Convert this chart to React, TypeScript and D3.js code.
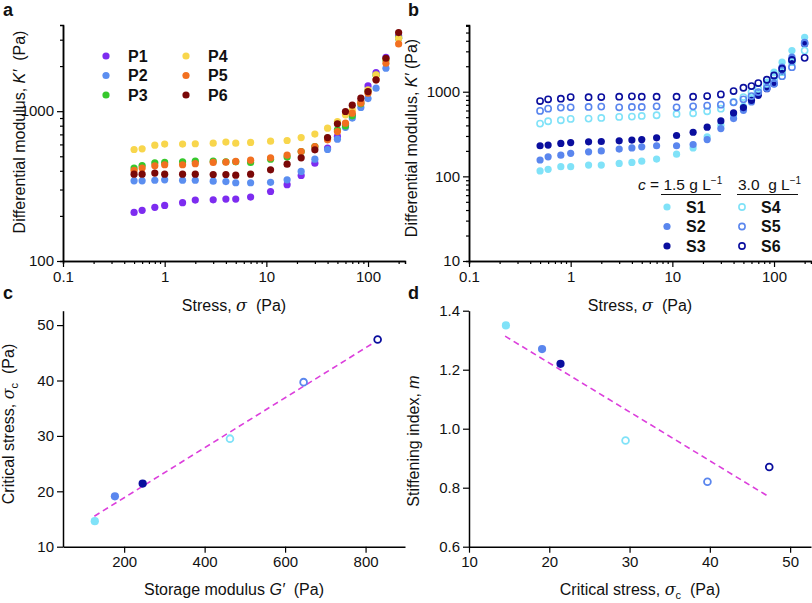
import React, { useEffect, useRef } from "react";
import * as d3 from "d3";

const stress = [0.5, 0.6, 0.8, 1, 1.5, 2, 3, 4, 5, 7, 11, 16, 22, 30, 40, 50, 60, 70, 85, 100, 120, 150, 200];

const P1 = [211, 218, 228, 235, 245, 255, 256, 259, 259, 267, 291, 323, 372, 450, 567, 678, 811, 946, 1160, 1475, 1811, 2291, 3180];
const P2 = [343, 343, 346, 348, 346, 346, 341, 339, 333, 333, 335, 348, 396, 478, 555, 650, 780, 900, 1060, 1214, 1423, 1935, 3068];
const P3 = [417, 434, 452, 455, 459, 464, 464, 459, 459, 455, 478, 494, 538, 581, 661, 751, 798, 931, 1119, 1374, 1738, 2198, 3083];
const P4 = [555, 561, 593, 603, 603, 606, 612, 622, 612, 619, 631, 637, 667, 703, 770, 853, 945, 1020, 1160, 1387, 1746, 2222, 3068];
const P5 = [402, 417, 432, 439, 439, 446, 455, 457, 462, 471, 488, 509, 538, 581, 644, 731, 832, 970, 1130, 1318, 1618, 2089, 2812];
const P6 = [380, 380, 386, 380, 380, 380, 378, 378, 374, 380, 406, 443, 488, 552, 667, 823, 995, 1096, 1222, 1352, 1618, 2255, 3345];

const S1 = [116, 121, 130, 130, 136, 136, 142, 146, 151, 160, 183, 217, 293, 402, 525, 671, 827, 991, 1300, 1703, 2233, 3060, 4395];
const S2 = [156, 170, 178, 187, 195, 200, 210, 217, 223, 230, 230, 238, 272, 367, 481, 603, 756, 947, 1188, 1358, 1950, 2557, 3840];
const S3 = [230, 234, 245, 251, 256, 258, 263, 268, 272, 285, 304, 332, 381, 452, 561, 649, 791, 906, 1084, 1242, 1703, 2338, 3672];
const S4 = [420, 448, 460, 477, 481, 490, 504, 508, 517, 527, 546, 556, 587, 631, 756, 865, 991, 1084, 1242, 1462, 1703, 2233, 3060];
const S5 = [593, 631, 649, 654, 661, 667, 654, 661, 661, 672, 654, 672, 684, 703, 749, 813, 889, 991, 1104, 1242, 1528, 1950, 3740];
const S6 = [776, 813, 827, 865, 861, 865, 873, 881, 873, 873, 873, 873, 889, 930, 1018, 1114, 1166, 1265, 1385, 1556, 1867, 2377, 2512];

const pNames = ["P1", "P2", "P3", "P4", "P5", "P6"];
const pColors = ["#7d2cf0", "#5b8ef0", "#36c82c", "#f8d64c", "#f27020", "#7a0808"];
const sNames = ["S1", "S2", "S3", "S4", "S5", "S6"];
const sColors = ["#80e2f8", "#5a86ee", "#0a0e9e", "#80e2f8", "#5a86ee", "#0a0e9e"];
const sOpen = [false, false, false, true, true, true];

// panel c / d
const storageG = [127, 177, 246, 463, 646, 830];
const critStress = [14.6, 19.1, 21.4, 29.5, 39.7, 47.4];
const stiffIndex = [1.35, 1.27, 1.22, 0.96, 0.82, 0.87];
const fitC = { slope: 0.0451, intercept: 9.82, x0: 126, x1: 827 };
const fitD = { slope: -0.01657, intercept: 1.554, x0: 14.5, x1: 47.4 };

const logXTicks = [0.1, 1, 10, 100];
const aYTicks = [100, 1000];
const bYTicks = [10, 100, 1000];
const cXTicks = [200, 400, 600, 800];
const cYTicks = [10, 20, 30, 40, 50];
const dXTicks = [10, 20, 30, 40, 50];
const dYTicks = [0.6, 0.8, 1.0, 1.2, 1.4];

const FONT = "Arial, 'Liberation Sans', Helvetica, sans-serif";
const TITLE = 16;
const TICK = 15;

function minorLog(lo: number, hi: number) {
  const out: number[] = [];
  for (let e = Math.floor(Math.log10(lo)); e <= Math.ceil(Math.log10(hi)); e++) {
    for (let k = 2; k <= 9; k++) {
      const v = k * Math.pow(10, e);
      if (v >= lo && v <= hi) out.push(v);
    }
  }
  return out;
}

export default function App() {
  const ref = useRef<SVGSVGElement>(null);
  useEffect(() => {
    const svg = d3.select(ref.current);
    svg.selectAll("*").remove();
    svg.attr("font-family", FONT);

    const styleAxis = (g: any) => {
      g.selectAll(".domain").attr("stroke", "#000").attr("stroke-width", 1.5);
      g.selectAll(".tick line").attr("stroke", "#000").attr("stroke-width", 1.2);
      g.selectAll(".tick text").attr("font-size", TICK).attr("font-family", FONT).attr("fill", "#111");
    };

    const drawAxes = (
      x: any, y: any, xt: number[], yt: number[], xfmt: (d: any) => string, yfmt: (d: any) => string,
      xMinor: number[] | null, yMinor: number[] | null
    ) => {
      const [x0] = x.range();
      const [y0] = y.range();
      if (xMinor) {
        svg.append("g").attr("transform", `translate(0,${y0})`)
          .call(d3.axisBottom(x).tickValues(xMinor).tickSize(3).tickFormat(() => ""))
          .call(styleAxis);
      }
      if (yMinor) {
        svg.append("g").attr("transform", `translate(${x0},0)`)
          .call(d3.axisLeft(y).tickValues(yMinor).tickSize(3).tickFormat(() => ""))
          .call(styleAxis);
      }
      svg.append("g").attr("transform", `translate(0,${y0})`)
        .call(d3.axisBottom(x).tickValues(xt).tickSize(6).tickSizeOuter(0).tickPadding(4).tickFormat(xfmt))
        .call(styleAxis);
      svg.append("g").attr("transform", `translate(${x0},0)`)
        .call(d3.axisLeft(y).tickValues(yt).tickSize(6).tickSizeOuter(0).tickPadding(3).tickFormat(yfmt))
        .call(styleAxis);
    };

    const label = (txt: string, x: number, y: number, opts: any = {}) => {
      const t = svg.append("text").attr("x", x).attr("y", y).attr("font-size", opts.size || TITLE)
        .attr("text-anchor", opts.anchor || "middle").attr("fill", "#111")
        .style("white-space", "pre");
      if (txt) t.text(txt);
      if (opts.bold) t.attr("font-weight", "bold");
      if (opts.rotate) t.attr("transform", `rotate(-90,${x},${y})`);
      return t;
    };

    const logFmt = (d: any) => String(d);

    // Panel a
    const xa = d3.scaleLog().domain([0.1, 231]).range([63, 405]);
    const ya = d3.scaleLog().domain([100, 3760]).range([261, 25]);
    drawAxes(xa, ya, logXTicks, aYTicks, logFmt, logFmt, minorLog(0.1, 231), minorLog(100, 3760));
    const allP = [P1, P2, P3, P4, P5, P6];
    allP.forEach((ser, i) => {
      svg.append("g").selectAll("circle").data(stress).join("circle")
        .attr("cx", (d) => xa(d)).attr("cy", (_d, j) => ya(ser[j])).attr("r", 3.6)
        .attr("fill", pColors[i]);
    });
    // legend a
    pNames.forEach((n, i) => {
      const col = Math.floor(i / 3), row = i % 3;
      const mx = 106 + col * 80, my = 56 + row * 19.5;
      svg.append("circle").attr("cx", mx).attr("cy", my).attr("r", 3.6).attr("fill", pColors[i]);
      label(n, mx + 22, my + 5.5, { anchor: "start", bold: true, size: 16 });
    });

    // Panel b
    const xb = d3.scaleLog().domain([0.1, 231]).range([469, 811]);
    const yb = d3.scaleLog().domain([10, 6140]).range([261, 25]);
    drawAxes(xb, yb, logXTicks, bYTicks, logFmt, logFmt, minorLog(0.1, 231), minorLog(10, 6140));
    const allS = [S1, S2, S3, S4, S5, S6];
    allS.forEach((ser, i) => {
      svg.append("g").selectAll("circle").data(stress).join("circle")
        .attr("cx", (d) => xb(d)).attr("cy", (_d, j) => yb(ser[j]))
        .attr("r", sOpen[i] ? 3.1 : 3.6)
        .attr("fill", sOpen[i] ? "none" : sColors[i])
        .attr("stroke", sOpen[i] ? sColors[i] : "none")
        .attr("stroke-width", 1.6);
    });
    // legend b
    {
      const t = label("", 638, 190, { anchor: "start", size: 15.5 });
      t.append("tspan").attr("font-style", "italic").text("c");
      t.append("tspan").text(" = 1.5 g L");
      t.append("tspan").attr("font-size", 10).attr("dy", -6).text("\u22121");
      const t2 = label("", 738, 190, { anchor: "start", size: 15.5 });
      t2.append("tspan").text("3.0  g L");
      t2.append("tspan").attr("font-size", 10).attr("dy", -6).text("\u22121");
      svg.append("line").attr("x1", 661).attr("x2", 721).attr("y1", 194.5).attr("y2", 194.5).attr("stroke", "#111").attr("stroke-width", 1);
      svg.append("line").attr("x1", 737).attr("x2", 798).attr("y1", 194.5).attr("y2", 194.5).attr("stroke", "#111").attr("stroke-width", 1);
      sNames.forEach((n, i) => {
        const col = Math.floor(i / 3), row = i % 3;
        const mx = 667 + col * 75, my = 207 + row * 19.5;
        svg.append("circle").attr("cx", mx).attr("cy", my).attr("r", sOpen[i] ? 3.1 : 3.6)
          .attr("fill", sOpen[i] ? "none" : sColors[i]).attr("stroke", sOpen[i] ? sColors[i] : "none").attr("stroke-width", 1.6);
        label(n, mx + 19, my + 5.5, { anchor: "start", bold: true, size: 16 });
      });
    }

    // Panel c
    const xc = d3.scaleLinear().domain([48, 898]).range([63, 405]);
    const yc = d3.scaleLinear().domain([10, 52.6]).range([546.7, 310.7]);
    drawAxes(xc, yc, cXTicks, cYTicks, (d) => String(d), (d) => String(d), null, null);
    svg.append("line")
      .attr("x1", xc(fitC.x0)).attr("y1", yc(fitC.intercept + fitC.slope * fitC.x0))
      .attr("x2", xc(fitC.x1)).attr("y2", yc(fitC.intercept + fitC.slope * fitC.x1))
      .attr("stroke", "#dc3fdc").attr("stroke-width", 1.6).attr("stroke-dasharray", "6,4");
    storageG.forEach((g, i) => {
      svg.append("circle").attr("cx", xc(g)).attr("cy", yc(critStress[i]))
        .attr("r", sOpen[i] ? 3.4 : 4.1)
        .attr("fill", sOpen[i] ? "#fff" : sColors[i])
        .attr("stroke", sOpen[i] ? sColors[i] : "none").attr("stroke-width", 1.8);
    });

    // Panel d
    const xd = d3.scaleLinear().domain([10, 52.6]).range([469, 811]);
    const yd = d3.scaleLinear().domain([0.6, 1.4]).range([546.7, 310.7]);
    drawAxes(xd, yd, dXTicks, dYTicks, (d) => String(d), (d) => d3.format(".1f")(d), null, null);
    svg.append("line")
      .attr("x1", xd(fitD.x0)).attr("y1", yd(fitD.intercept + fitD.slope * fitD.x0))
      .attr("x2", xd(fitD.x1)).attr("y2", yd(fitD.intercept + fitD.slope * fitD.x1))
      .attr("stroke", "#dc3fdc").attr("stroke-width", 1.6).attr("stroke-dasharray", "6,4");
    critStress.forEach((c, i) => {
      svg.append("circle").attr("cx", xd(c)).attr("cy", yd(stiffIndex[i]))
        .attr("r", sOpen[i] ? 3.4 : 4.1)
        .attr("fill", sOpen[i] ? "#fff" : sColors[i])
        .attr("stroke", sOpen[i] ? sColors[i] : "none").attr("stroke-width", 1.8);
    });

    // Panel letters
    label("a", 3, 16, { anchor: "start", bold: true, size: 18 });
    label("b", 408, 16, { anchor: "start", bold: true, size: 18 });
    label("c", 3, 299, { anchor: "start", bold: true, size: 18 });
    label("d", 408, 299, { anchor: "start", bold: true, size: 18 });

    // Axis titles
    const stressLab = (cx: number) => {
      const t = label("", cx, 311);
      t.append("tspan").text("Stress, ");
      t.append("tspan").attr("font-style", "italic").attr("font-family", "'DejaVu Serif', serif").text("\u03c3");
      t.append("tspan").text("  (Pa)");
    };
    stressLab(234);
    stressLab(640);

    const kLab = (x: number, cy: number, sp: string) => {
      const t = label("", x, cy, { rotate: true });
      t.append("tspan").text("Differential modulus, ");
      t.append("tspan").attr("font-style", "italic").text("K\u2032");
      t.append("tspan").text(sp + "(Pa)");
    };
    kLab(25, 132, "  ");
    kLab(417, 138, " ");

    {
      const t = label("", 14, 424, { rotate: true });
      t.append("tspan").text("Critical stress, ");
      t.append("tspan").attr("font-style", "italic").attr("font-family", "'DejaVu Serif', serif").text("\u03c3");
      t.append("tspan").attr("font-size", 11).attr("dy", 4).text("c");
      t.append("tspan").attr("dy", -4).text("  (Pa)");
    }
    {
      const t = label("", 419, 441, { rotate: true });
      t.append("tspan").text("Stiffening index, ");
      t.append("tspan").attr("font-style", "italic").text("m");
    }
    {
      const t = label("", 234, 595);
      t.append("tspan").text("Storage modulus ");
      t.append("tspan").attr("font-style", "italic").text("G\u2032");
      t.append("tspan").text("  (Pa)");
    }
    {
      const t = label("", 640, 595);
      t.append("tspan").text("Critical stress, ");
      t.append("tspan").attr("font-style", "italic").attr("font-family", "'DejaVu Serif', serif").text("\u03c3");
      t.append("tspan").attr("font-size", 11).attr("dy", 4).text("c");
      t.append("tspan").attr("dy", -4).text("  (Pa)");
    }
  }, []);

  return (
    <svg ref={ref} width={812} height={603} style={{ position: "absolute", left: 0, top: 0, background: "#fff" }} />
  );
}
